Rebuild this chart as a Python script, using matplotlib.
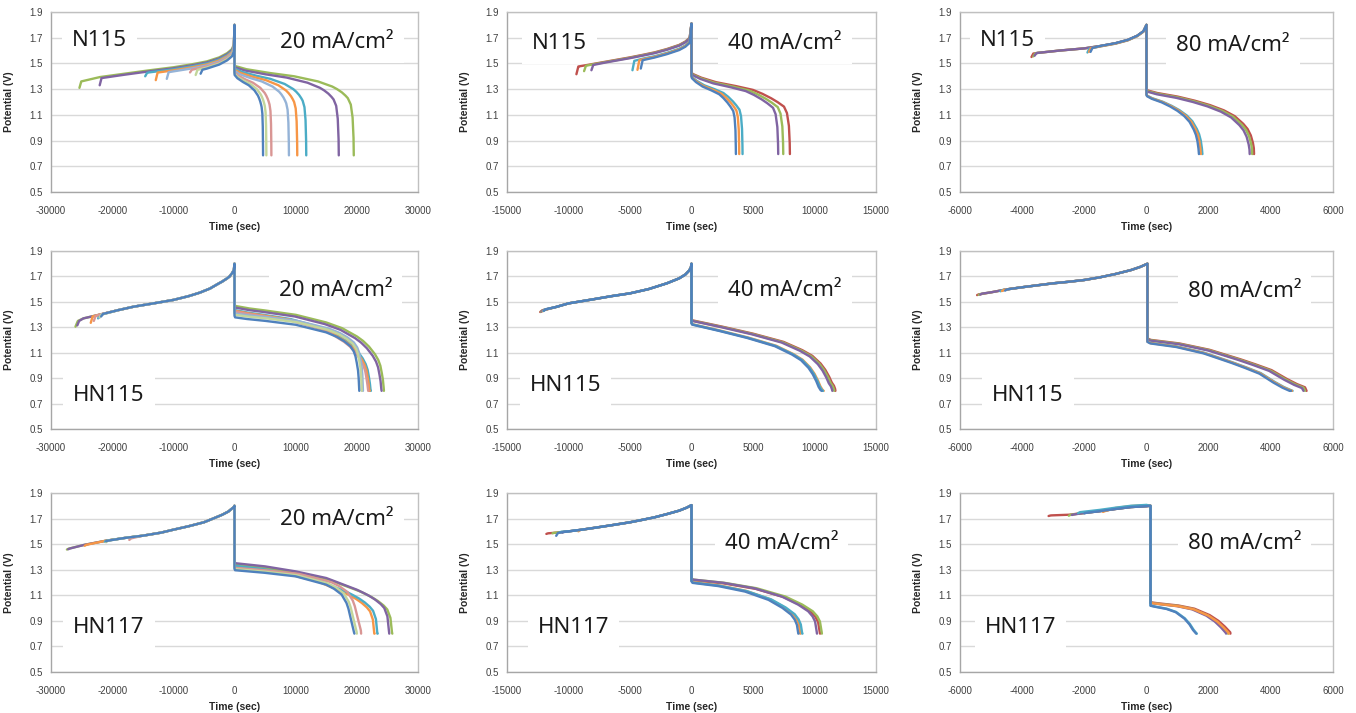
import numpy as np
import matplotlib
matplotlib.use("Agg")
import matplotlib.pyplot as plt

plt.rcParams['axes.unicode_minus'] = False
plt.rcParams['font.family'] = ['Liberation Sans', 'DejaVu Sans']

COL = {'blue': '#4F81BD', 'red': '#C0504D', 'green': '#9BBB59', 'purple': '#8064A2',
       'aqua': '#4BACC6', 'orange': '#F79646', 'lblue': '#95B3D7', 'pink': '#D99694',
       'lgreen': '#C3D69B'}

# ---------------- Panel 1: N115, 20 mA/cm2 ----------------
P1_CH_T = [-25200, -22000, -18000, -14000, -10000, -7000, -4500, -2500, -1200, -400, -100]
P1_CH_V = [1.36, 1.394, 1.42, 1.446, 1.47, 1.493, 1.516, 1.547, 1.58, 1.612, 1.65]
P1_COLORS = ['green', 'purple', 'aqua', 'orange', 'lblue', 'pink', 'lgreen', 'blue']
P1_T0 = [-25350, -22040, -14600, -12870, -11070, -7270, -6350, -5540]
P1_V0 = [1.31, 1.33, 1.40, 1.37, 1.38, 1.43, 1.41, 1.42]
P1_V1 = [1.36, 1.386, 1.426, 1.429, 1.432, 1.451, 1.45, 1.451]
P1_DVC = [0, -0.008, -0.016, -0.024, -0.032, -0.04, -0.048, -0.056]
P1_DSTART = [1.50, 1.49, 1.48, 1.47, 1.46, 1.45, 1.44, 1.43]
P1_TD = [19500, 17050, 11730, 10260, 8900, 6030, 5210, 4670]
P1_GROUP = ['L'] * 8
P1_DF = {'L': [0, 0.005, 0.1, 0.3, 0.5, 0.7, 0.82, 0.86, 0.9, 0.93, 0.95, 0.975, 0.99, 0.998]}
P1_DV = {'L': [0, -0.02, -0.045, -0.075, -0.10, -0.14, -0.18, -0.20, -0.225, -0.25, -0.27, -0.32, -0.42, -0.58]}

# ---------------- Panel 2: N115, 40 mA/cm2 ----------------
P2_CH_T = [-9200, -8000, -7000, -6000, -5000, -4000, -3000, -2000, -1000, -500, -150]
P2_CH_V = [1.476, 1.496, 1.513, 1.53, 1.547, 1.566, 1.586, 1.612, 1.644, 1.67, 1.70]
P2_COLORS = ['red', 'green', 'purple', 'aqua', 'orange', 'blue']
P2_T0 = [-9357, -8733, -8137, -4800, -4394, -4123]
P2_V0 = [1.416, 1.44, 1.447, 1.447, 1.45, 1.46]
P2_V1 = [1.473, 1.482, 1.488, 1.52, 1.524, 1.525]
P2_DVC = [0, -0.003, -0.006, -0.03, -0.035, -0.04]
P2_DSTART = [1.434, 1.43, 1.425, 1.41, 1.405, 1.40]
P2_TD = [8000, 7460, 7050, 4150, 3880, 3610]
P2_GROUP = ['L'] * 6
P2_DF = {'L': [0, 0.01, 0.1, 0.25, 0.45, 0.625, 0.72, 0.81, 0.875, 0.94, 0.97, 0.99, 0.998]}
P2_DV = {'L': [0, -0.015, -0.045, -0.08, -0.11, -0.14, -0.17, -0.205, -0.235, -0.27, -0.32, -0.42, -0.55]}

# ---------------- Panel 3: N115, 80 mA/cm2 ----------------
P3_CH_T = [-3500, -2800, -2000, -1500, -1000, -600, -300, -100]
P3_CH_V = [1.582, 1.60, 1.617, 1.635, 1.657, 1.683, 1.715, 1.75]
P3_COLORS = ['red', 'green', 'purple', 'aqua', 'orange', 'blue']
P3_T0 = [-3700, -3640, -3600, -1900, -1850, -1800]
P3_V0 = [1.55, 1.555, 1.56, 1.585, 1.59, 1.59]
P3_V1 = [1.577, 1.578, 1.58, 1.615, 1.618, 1.62]
P3_DVC = [0, 0, 0, -0.003, -0.003, 0]
P3_DSTART = [1.30, 1.295, 1.29, 1.26, 1.258, 1.255]
P3_TD = [3460, 3400, 3320, 1800, 1750, 1690]
P3_GROUP = ['L'] * 6
P3_DF = {'L': [0, 0.01, 0.1, 0.29, 0.45, 0.59, 0.72, 0.82, 0.9, 0.94, 0.97, 0.99, 0.998]}
P3_DV = {'L': [0, -0.01, -0.03, -0.058, -0.09, -0.124, -0.165, -0.21, -0.27, -0.31, -0.36, -0.42, -0.46]}

# ---------------- Panel 4: HN115, 20 mA/cm2 ----------------
P4_CH_T = [-25600, -24700, -22000, -19000, -16500, -13000, -10000, -7500, -5700, -4000,
           -3000, -2000, -1200, -800, -400, -100]
P4_CH_V = [1.35, 1.37, 1.40, 1.435, 1.462, 1.49, 1.515, 1.545, 1.572, 1.605,
           1.633, 1.66, 1.685, 1.70, 1.725, 1.75]
P4_COLORS = ['green', 'purple', 'aqua', 'orange', 'pink', 'lblue', 'lgreen', 'blue']
P4_T0 = [-26000, -25700, -22300, -23500, -23000, -22100, -22000, -21800]
P4_V0 = [1.305, 1.315, 1.37, 1.335, 1.35, 1.375, 1.38, 1.385]
P4_V1 = [1.34, 1.35, 1.398, 1.385, 1.39, 1.40, 1.40, 1.405]
P4_DVC = [0, 0, 0, 0, 0, 0, 0, 0]
P4_DSTART = [1.488, 1.475, 1.455, 1.45, 1.445, 1.42, 1.41, 1.39]
P4_TD = [24430, 24050, 22300, 22100, 21900, 21000, 20800, 20400]
P4_GROUP = ['L', 'L', 'L', 'L', 'L', 'S', 'S', 'S']
P4_DF = {'L': [0, 0.005, 0.1, 0.2, 0.41, 0.614, 0.72, 0.819, 0.86, 0.9, 0.94, 0.962, 0.976, 0.986, 0.993, 0.998],
         'S': [0, 0.005, 0.1, 0.25, 0.49, 0.735, 0.82, 0.88, 0.93, 0.956, 0.97, 0.98, 0.99, 0.995]}
P4_DV = {'L': [0, -0.02, -0.04, -0.055, -0.09, -0.15, -0.195, -0.26, -0.295, -0.34, -0.40, -0.445, -0.49, -0.55, -0.60, -0.66],
         'S': [0, -0.012, -0.025, -0.04, -0.07, -0.13, -0.165, -0.2, -0.24, -0.28, -0.32, -0.37, -0.43, -0.49]}

# ---------------- Panel 5: HN115, 40 mA/cm2 ----------------
P5_CH_T = [-12100, -11000, -10000, -8000, -6500, -5000, -3500, -2000, -1000, -500, -200, -50]
P5_CH_V = [1.432, 1.46, 1.488, 1.52, 1.545, 1.567, 1.60, 1.646, 1.685, 1.715, 1.745, 1.77]
P5_COLORS = ['red', 'green', 'purple', 'orange', 'aqua', 'blue']
P5_T0 = [-12300, -12250, -12200, -12100, -12050, -12000]
P5_V0 = [1.42, 1.422, 1.424, 1.426, 1.428, 1.43]
P5_V1 = [1.432, 1.434, 1.436, 1.438, 1.44, 1.442]
P5_DVC = [0, 0, 0, 0, 0, 0]
P5_DSTART = [1.365, 1.362, 1.36, 1.335, 1.333, 1.331]
P5_TD = [11700, 11600, 11450, 10750, 10700, 10600]
P5_GROUP = ['L'] * 6
P5_DF = {'L': [0, 0.005, 0.214, 0.427, 0.64, 0.77, 0.84, 0.897, 0.93, 0.957, 0.975, 0.99, 0.998]}
P5_DV = {'L': [0, -0.01, -0.06, -0.115, -0.18, -0.245, -0.29, -0.35, -0.40, -0.455, -0.50, -0.525, -0.55]}

# ---------------- Panel 6: HN115, 80 mA/cm2 ----------------
P6_CH_T = [-5350, -5000, -4500, -4000, -3000, -2500, -2000, -1500, -1000, -500, -200]
P6_CH_V = [1.56, 1.575, 1.598, 1.615, 1.646, 1.658, 1.672, 1.693, 1.719, 1.75, 1.775]
P6_COLORS = ['red', 'green', 'purple', 'aqua', 'orange', 'blue']
P6_T0 = [-5450, -5400, -5350, -4700, -4650, -4550]
P6_V0 = [1.553, 1.555, 1.557, 1.583, 1.585, 1.588]
P6_V1 = [1.56, 1.562, 1.565, 1.592, 1.594, 1.598]
P6_DVC = [0, 0, 0, 0, 0, 0]
P6_DSTART = [1.213, 1.21, 1.207, 1.19, 1.188, 1.185]
P6_TD = [5150, 5100, 5050, 4700, 4680, 4650]
P6_GROUP = ['L'] * 6
P6_DF = {'L': [0, 0.02, 0.2, 0.39, 0.585, 0.68, 0.78, 0.877, 0.94, 0.99]}
P6_DV = {'L': [0, -0.012, -0.04, -0.09, -0.165, -0.205, -0.25, -0.32, -0.36, -0.385]}

# ---------------- Panel 7: HN117, 20 mA/cm2 ----------------
P7_CH_T = [-27100, -24500, -21000, -18000, -15000, -12000, -10000, -7500, -5000, -3500,
           -2000, -1000, -500, -100]
P7_CH_V = [1.465, 1.495, 1.527, 1.548, 1.566, 1.59, 1.613, 1.64, 1.671, 1.70,
           1.73, 1.755, 1.775, 1.79]
P7_COLORS = ['green', 'purple', 'orange', 'aqua', 'pink', 'lgreen', 'blue']
P7_T0 = [-27400, -27200, -24500, -21200, -17200, -21000, -21000]
P7_V0 = [1.458, 1.46, 1.487, 1.52, 1.533, 1.515, 1.522]
P7_V1 = [1.465, 1.466, 1.495, 1.527, 1.545, 1.527, 1.527]
P7_DVC = [0, 0, 0, 0, 0, 0, 0]
P7_DSTART = [1.36, 1.371, 1.345, 1.35, 1.325, 1.315, 1.306]
P7_TD = [25800, 25300, 22900, 23400, 20700, 20000, 19600]
P7_GROUP = ['L', 'L', 'L', 'L', 'S', 'S', 'S']
P7_DF = {'L': [0, 0.005, 0.198, 0.395, 0.593, 0.79, 0.83, 0.87, 0.909, 0.945, 0.968, 0.988, 0.998],
         'S': [0, 0.005, 0.25, 0.51, 0.765, 0.83, 0.893, 0.934, 0.95, 0.97, 0.998]}
P7_DV = {'L': [0, -0.02, -0.045, -0.084, -0.136, -0.227, -0.25, -0.275, -0.305, -0.34, -0.371, -0.436, -0.55],
         'S': [0, -0.01, -0.03, -0.058, -0.123, -0.155, -0.2, -0.266, -0.31, -0.39, -0.5]}

# ---------------- Panel 8: HN117, 40 mA/cm2 ----------------
P8_CH_T = [-11600, -11000, -10000, -9000, -8000, -6500, -5000, -4000, -3000, -2000, -1000, -400, -100]
P8_CH_V = [1.585, 1.59, 1.60, 1.612, 1.626, 1.648, 1.671, 1.69, 1.71, 1.735, 1.762, 1.785, 1.80]
P8_COLORS = ['red', 'green', 'purple', 'orange', 'aqua', 'blue']
P8_T0 = [-11800, -11300, -10500, -9200, -10700, -11000]
P8_V0 = [1.58, 1.585, 1.59, 1.60, 1.593, 1.565]
P8_V1 = [1.585, 1.589, 1.598, 1.61, 1.597, 1.588]
P8_DVC = [0, 0, 0, 0, 0, 0]
P8_DSTART = [1.23, 1.235, 1.235, 1.215, 1.212, 1.209]
P8_TD = [10450, 10600, 10200, 8860, 9020, 8700]
P8_GROUP = ['L'] * 6
P8_DF = {'L': [0, 0.01, 0.25, 0.5, 0.72, 0.85, 0.93, 0.965, 0.985, 0.998]}
P8_DV = {'L': [0, -0.012, -0.037, -0.08, -0.145, -0.208, -0.26, -0.30, -0.34, -0.42]}

# ---------------- Panel 9: HN117, 80 mA/cm2 ----------------
P9_CH_T = [-3050, -2500, -2000, -1500, -1000, -500, 0]
P9_CH_V = [1.725, 1.73, 1.744, 1.758, 1.775, 1.79, 1.797]
P9_COLORS = ['red', 'green', 'purple', 'orange', 'aqua', 'blue']
P9_T0 = [-3150, -2500, -2400, -1400, -2200, -2000]
P9_V0 = [1.72, 1.722, 1.728, 1.752, 1.742, 1.74]
P9_V1 = [1.724, 1.73, 1.732, 1.758, 1.75, 1.745]
P9_DVC = [0, 0, 0, 0.008, 0.01, 0]
P9_DSTART = [1.045, 1.042, 1.04, 1.04, 1.02, 1.018]
P9_TD = [2700, 2620, 2560, 2650, 1620, 1600]
P9_GROUP = ['L'] * 6
P9_DF = {'L': [0, 0.1, 0.35, 0.55, 0.74, 0.85, 0.93, 0.998]}
P9_DV = {'L': [0, -0.008, -0.025, -0.05, -0.1, -0.145, -0.19, -0.235]}

MEMBRANES = ['N115', 'N115', 'N115', 'HN115', 'HN115', 'HN115', 'HN117', 'HN117', 'HN117']
CURRENTS = ['20 mA/cm²', '40 mA/cm²', '80 mA/cm²'] * 3
X_LIMS = [30000, 15000, 6000] * 3
X_STEPS = [10000, 5000, 2000] * 3
Y_TICKS = [0.5, 0.7, 0.9, 1.1, 1.3, 1.5, 1.7, 1.9]

DATA = [
    (P1_CH_T, P1_CH_V, P1_COLORS, P1_T0, P1_V0, P1_V1, P1_DVC, P1_DSTART, P1_TD, P1_GROUP, P1_DF, P1_DV),
    (P2_CH_T, P2_CH_V, P2_COLORS, P2_T0, P2_V0, P2_V1, P2_DVC, P2_DSTART, P2_TD, P2_GROUP, P2_DF, P2_DV),
    (P3_CH_T, P3_CH_V, P3_COLORS, P3_T0, P3_V0, P3_V1, P3_DVC, P3_DSTART, P3_TD, P3_GROUP, P3_DF, P3_DV),
    (P4_CH_T, P4_CH_V, P4_COLORS, P4_T0, P4_V0, P4_V1, P4_DVC, P4_DSTART, P4_TD, P4_GROUP, P4_DF, P4_DV),
    (P5_CH_T, P5_CH_V, P5_COLORS, P5_T0, P5_V0, P5_V1, P5_DVC, P5_DSTART, P5_TD, P5_GROUP, P5_DF, P5_DV),
    (P6_CH_T, P6_CH_V, P6_COLORS, P6_T0, P6_V0, P6_V1, P6_DVC, P6_DSTART, P6_TD, P6_GROUP, P6_DF, P6_DV),
    (P7_CH_T, P7_CH_V, P7_COLORS, P7_T0, P7_V0, P7_V1, P7_DVC, P7_DSTART, P7_TD, P7_GROUP, P7_DF, P7_DV),
    (P8_CH_T, P8_CH_V, P8_COLORS, P8_T0, P8_V0, P8_V1, P8_DVC, P8_DSTART, P8_TD, P8_GROUP, P8_DF, P8_DV),
    (P9_CH_T, P9_CH_V, P9_COLORS, P9_T0, P9_V0, P9_V1, P9_DVC, P9_DSTART, P9_TD, P9_GROUP, P9_DF, P9_DV),
]
PEAKS = [1.80, 1.81, 1.80, 1.80, 1.80, 1.80, 1.80, 1.805, 1.80]
T_SWITCH = [0, 0, 0, 0, 0, 30, 0, 0, 130]
V_ENDS = [0.785, 0.795, 0.795, 0.80, 0.80, 0.80, 0.80, 0.80, 0.80]

# ---------------- layout (pixels of the 1356x713 canvas) ----------------
W, H = 1356, 713
COL_X = [(51, 418), (507, 876), (960, 1333)]
ROW_Y = [(12, 192), (251, 429), (493, 672)]
MEM_POS = [(0.057, 0.844), (0.068, 0.827), (0.054, 0.84),
           (0.06, 0.19), (0.062, 0.247), (0.086, 0.19),
           (0.06, 0.25), (0.084, 0.25), (0.067, 0.25)]
CUR_POS = [(0.624, 0.83), (0.60, 0.827), (0.58, 0.815),
           (0.62, 0.78), (0.60, 0.78), (0.61, 0.77),
           (0.624, 0.85), (0.59, 0.72), (0.61, 0.72)]

fig = plt.figure(figsize=(W / 100, H / 100), dpi=100)
fig.patch.set_facecolor('white')

for k in range(9):
    r, c = divmod(k, 3)
    x0, x1 = COL_X[c]
    y0, y1 = ROW_Y[r]
    ax = fig.add_axes([x0 / W, 1 - y1 / H, (x1 - x0) / W, (y1 - y0) / H])
    (ch_t, ch_v, colors, t0s, v0s, v1s, dvcs, dstarts, tds, groups, dfs, dvs) = DATA[k]
    xl = X_LIMS[k]
    hook = xl * 0.01
    tsw = T_SWITCH[k]
    vend = V_ENDS[k]
    for i in range(len(colors)):
        xs = [t0s[i], t0s[i] + hook]
        ys = [v0s[i], v1s[i]]
        for t, v in zip(ch_t, ch_v):
            if t > t0s[i] + hook:
                xs.append(t)
                ys.append(v + dvcs[i])
        xs += [tsw, tsw]
        ys += [PEAKS[k], dstarts[i]]
        for f, dv in zip(dfs[groups[i]], dvs[groups[i]]):
            xs.append(tsw + f * (tds[i] - tsw))
            ys.append(max(dstarts[i] + dv, vend))
        xs.append(tds[i])
        ys.append(vend)
        ax.plot(xs, ys, color=COL[colors[i]], lw=1.7, solid_joinstyle='round',
                solid_capstyle='round', zorder=2)

    ax.set_xlim(-xl, xl)
    ax.set_ylim(0.5, 1.9)
    xt = np.arange(-xl, xl + 1, X_STEPS[k])
    ax.set_xticks(xt)
    ax.set_xticklabels([str(int(v)) for v in xt])
    ax.set_yticks(Y_TICKS)
    ax.set_yticklabels(['%.1f' % v for v in Y_TICKS])
    ax.tick_params(axis='both', length=0, labelsize=7, labelcolor='#404040')
    ax.tick_params(axis='x', pad=10)
    ax.tick_params(axis='y', pad=6)
    ax.yaxis.grid(True, color='#D9D9D9', lw=1.0)
    ax.set_axisbelow(True)
    for s in ax.spines.values():
        s.set_color('#C0C0C0')
        s.set_linewidth(1.0)
    ax.spines['left'].set_color('#A6A6A6')
    ax.spines['bottom'].set_color('#A6A6A6')
    ax.set_ylabel('Potential (V)', fontsize=7.5, fontweight='bold', color='#262626')
    ax.set_xlabel('Time (sec)', fontsize=7.5, fontweight='bold', color='#262626')
    ax.yaxis.set_label_coords(-0.1, 0.5)
    ax.xaxis.set_label_coords(0.5, -0.197)
    ax.xaxis.label.set_va('center')

    bb = dict(boxstyle='square,pad=0.45', fc='white', ec='none')
    ax.text(MEM_POS[k][0], MEM_POS[k][1], MEMBRANES[k], transform=ax.transAxes,
            ha='left', va='center', fontsize=16, family=['Noto Sans', 'DejaVu Sans'],
            color='#1a1a1a', bbox=bb, zorder=1.5)
    ax.text(CUR_POS[k][0], CUR_POS[k][1], CURRENTS[k], transform=ax.transAxes,
            ha='left', va='center', fontsize=16, family=['Noto Sans', 'DejaVu Sans'],
            color='#1a1a1a', bbox=bb, zorder=1.5)

fig.savefig('out.png', dpi=100, facecolor='white')
